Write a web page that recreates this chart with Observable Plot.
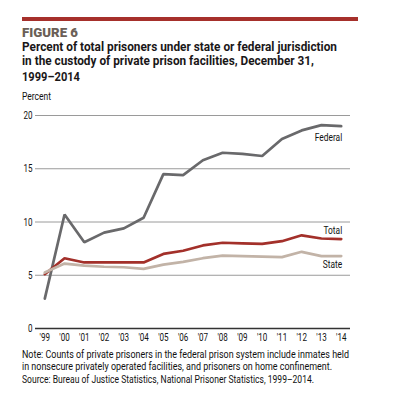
<!DOCTYPE html>
<html>
<head>
<meta charset="utf-8">
<script src="https://cdn.jsdelivr.net/npm/d3@7"></script>
<script src="https://cdn.jsdelivr.net/npm/@observablehq/plot@0.6"></script>
<style>
  html, body { margin: 0; padding: 0; background: #fff; }
  body { width: 399px; height: 403px; position: relative; overflow: hidden;
         font-family: "Roboto", sans-serif; color: #111; }
  .rule { position: absolute; left: 22px; top: 17px; width: 336px; height: 4px; background: #a6302b; }
  .t { position: absolute; left: 22px; white-space: nowrap; transform-origin: 0 0; line-height: 14px; }
  .fig { font-weight: 900; font-size: 12.5px; color: #6b5f57; }
  .title { font-weight: bold; font-size: 13.2px; color: #1a1718; }
  .unit { font-size: 10.5px; }
  .note { font-size: 10.5px; }
  #chart { position: absolute; left: 0; top: 100px; }
</style>
</head>
<body>
<div class="rule"></div>
<div class="t fig" style="top:25.7px" data-w="56">FIGURE 6</div>
<div class="t title" style="top:39.7px" data-w="315">Percent of total prisoners under state or federal jurisdiction</div>
<div class="t title" style="top:54px" data-w="292">in the custody of private prison facilities, December 31,</div>
<div class="t title" style="top:69.7px" data-w="58">1999–2014</div>
<div class="t unit" style="top:89.7px" data-w="29">Percent</div>
<div id="chart"></div>
<div class="t note" style="top:348px" data-w="327">Note: Counts of private prisoners in the federal prison system include inmates held</div>
<div class="t note" style="top:359.5px" data-w="310">in nonsecure privately operated facilities, and prisoners on home confinement.</div>
<div class="t note" style="top:373px" data-w="292">Source: Bureau of Justice Statistics, National Prisoner Statistics, 1999–2014.</div>
<script>
const years = [1999, 2000, 2001, 2002, 2003, 2004, 2005, 2006, 2007, 2008, 2009, 2010, 2011, 2012, 2013, 2014];
const federal = [2.8, 10.7, 8.1, 9.0, 9.4, 10.4, 14.5, 14.4, 15.8, 16.5, 16.4, 16.2, 17.8, 18.6, 19.1, 19.0];
const total = [5.1, 6.6, 6.2, 6.2, 6.2, 6.2, 7.0, 7.3, 7.8, 8.05, 8.0, 7.95, 8.2, 8.75, 8.45, 8.4];
const state = [5.25, 6.1, 5.9, 5.8, 5.75, 5.6, 6.0, 6.25, 6.6, 6.85, 6.8, 6.75, 6.7, 7.2, 6.8, 6.8];
const seriesNames = ["Federal", "Total", "State"];
const yTicks = [0, 5, 10, 15, 20];

const colors = {Federal: "#69696b", Total: "#a3302a", State: "#c2b3a7"};
const labelDy = {Federal: 11, Total: -9, State: 8};
const values = {Federal: federal, Total: total, State: state};

const rows = [];
for (const s of seriesNames) years.forEach((y, i) => rows.push({series: s, year: y, value: values[s][i]}));
const last = rows.filter(d => d.year === years[years.length - 1]);

const labelMark = (name, dy) => Plot.text(last, {
  x: "year", y: "value", text: "series", textAnchor: "end", dx: 1, dy,
  fill: "#111", fontSize: 11.5, filter: d => d.series === name
});

const plot = Plot.plot({
  width: 399,
  height: 250,
  marginTop: 15,
  marginBottom: 22,
  marginLeft: 35,
  marginRight: 49,
  style: {fontFamily: "Roboto, sans-serif", fontSize: "11px", color: "#111", background: "transparent"},
  x: {domain: [1998.53, 2014.47], ticks: years, tickFormat: d => "'" + String(d).slice(2), tickSize: 0, tickPadding: 5, label: null},
  y: {domain: [0, 20], ticks: yTicks, tickSize: 0, tickPadding: 3, label: null},
  marks: [
    Plot.ruleY(yTicks.filter(d => d > 0), {stroke: "#9a9a9a", strokeWidth: 1}),
    Plot.ruleY([0], {stroke: "#333", strokeWidth: 1.5}),
    Plot.line(rows, {x: "year", y: "value", z: "series", stroke: d => colors[d.series], strokeWidth: 2.7, strokeLinejoin: "miter"}),
    ...seriesNames.map(s => labelMark(s, labelDy[s]))
  ]
});
document.getElementById("chart").appendChild(plot);

// condense svg texts (reference uses a condensed face)
plot.querySelectorAll("text").forEach(t => {
  const w = t.getComputedTextLength();
  if (w > 0) {
    t.setAttribute("textLength", (w * 0.73).toFixed(2));
    t.setAttribute("lengthAdjust", "spacingAndGlyphs");
  }
});
// condense html text lines to match reference widths
document.querySelectorAll(".t").forEach(el => {
  const nat = el.getBoundingClientRect().width;
  const target = +el.dataset.w;
  if (nat > 0 && target) el.style.transform = `scaleX(${target / nat})`;
});
</script>
</body>
</html>
